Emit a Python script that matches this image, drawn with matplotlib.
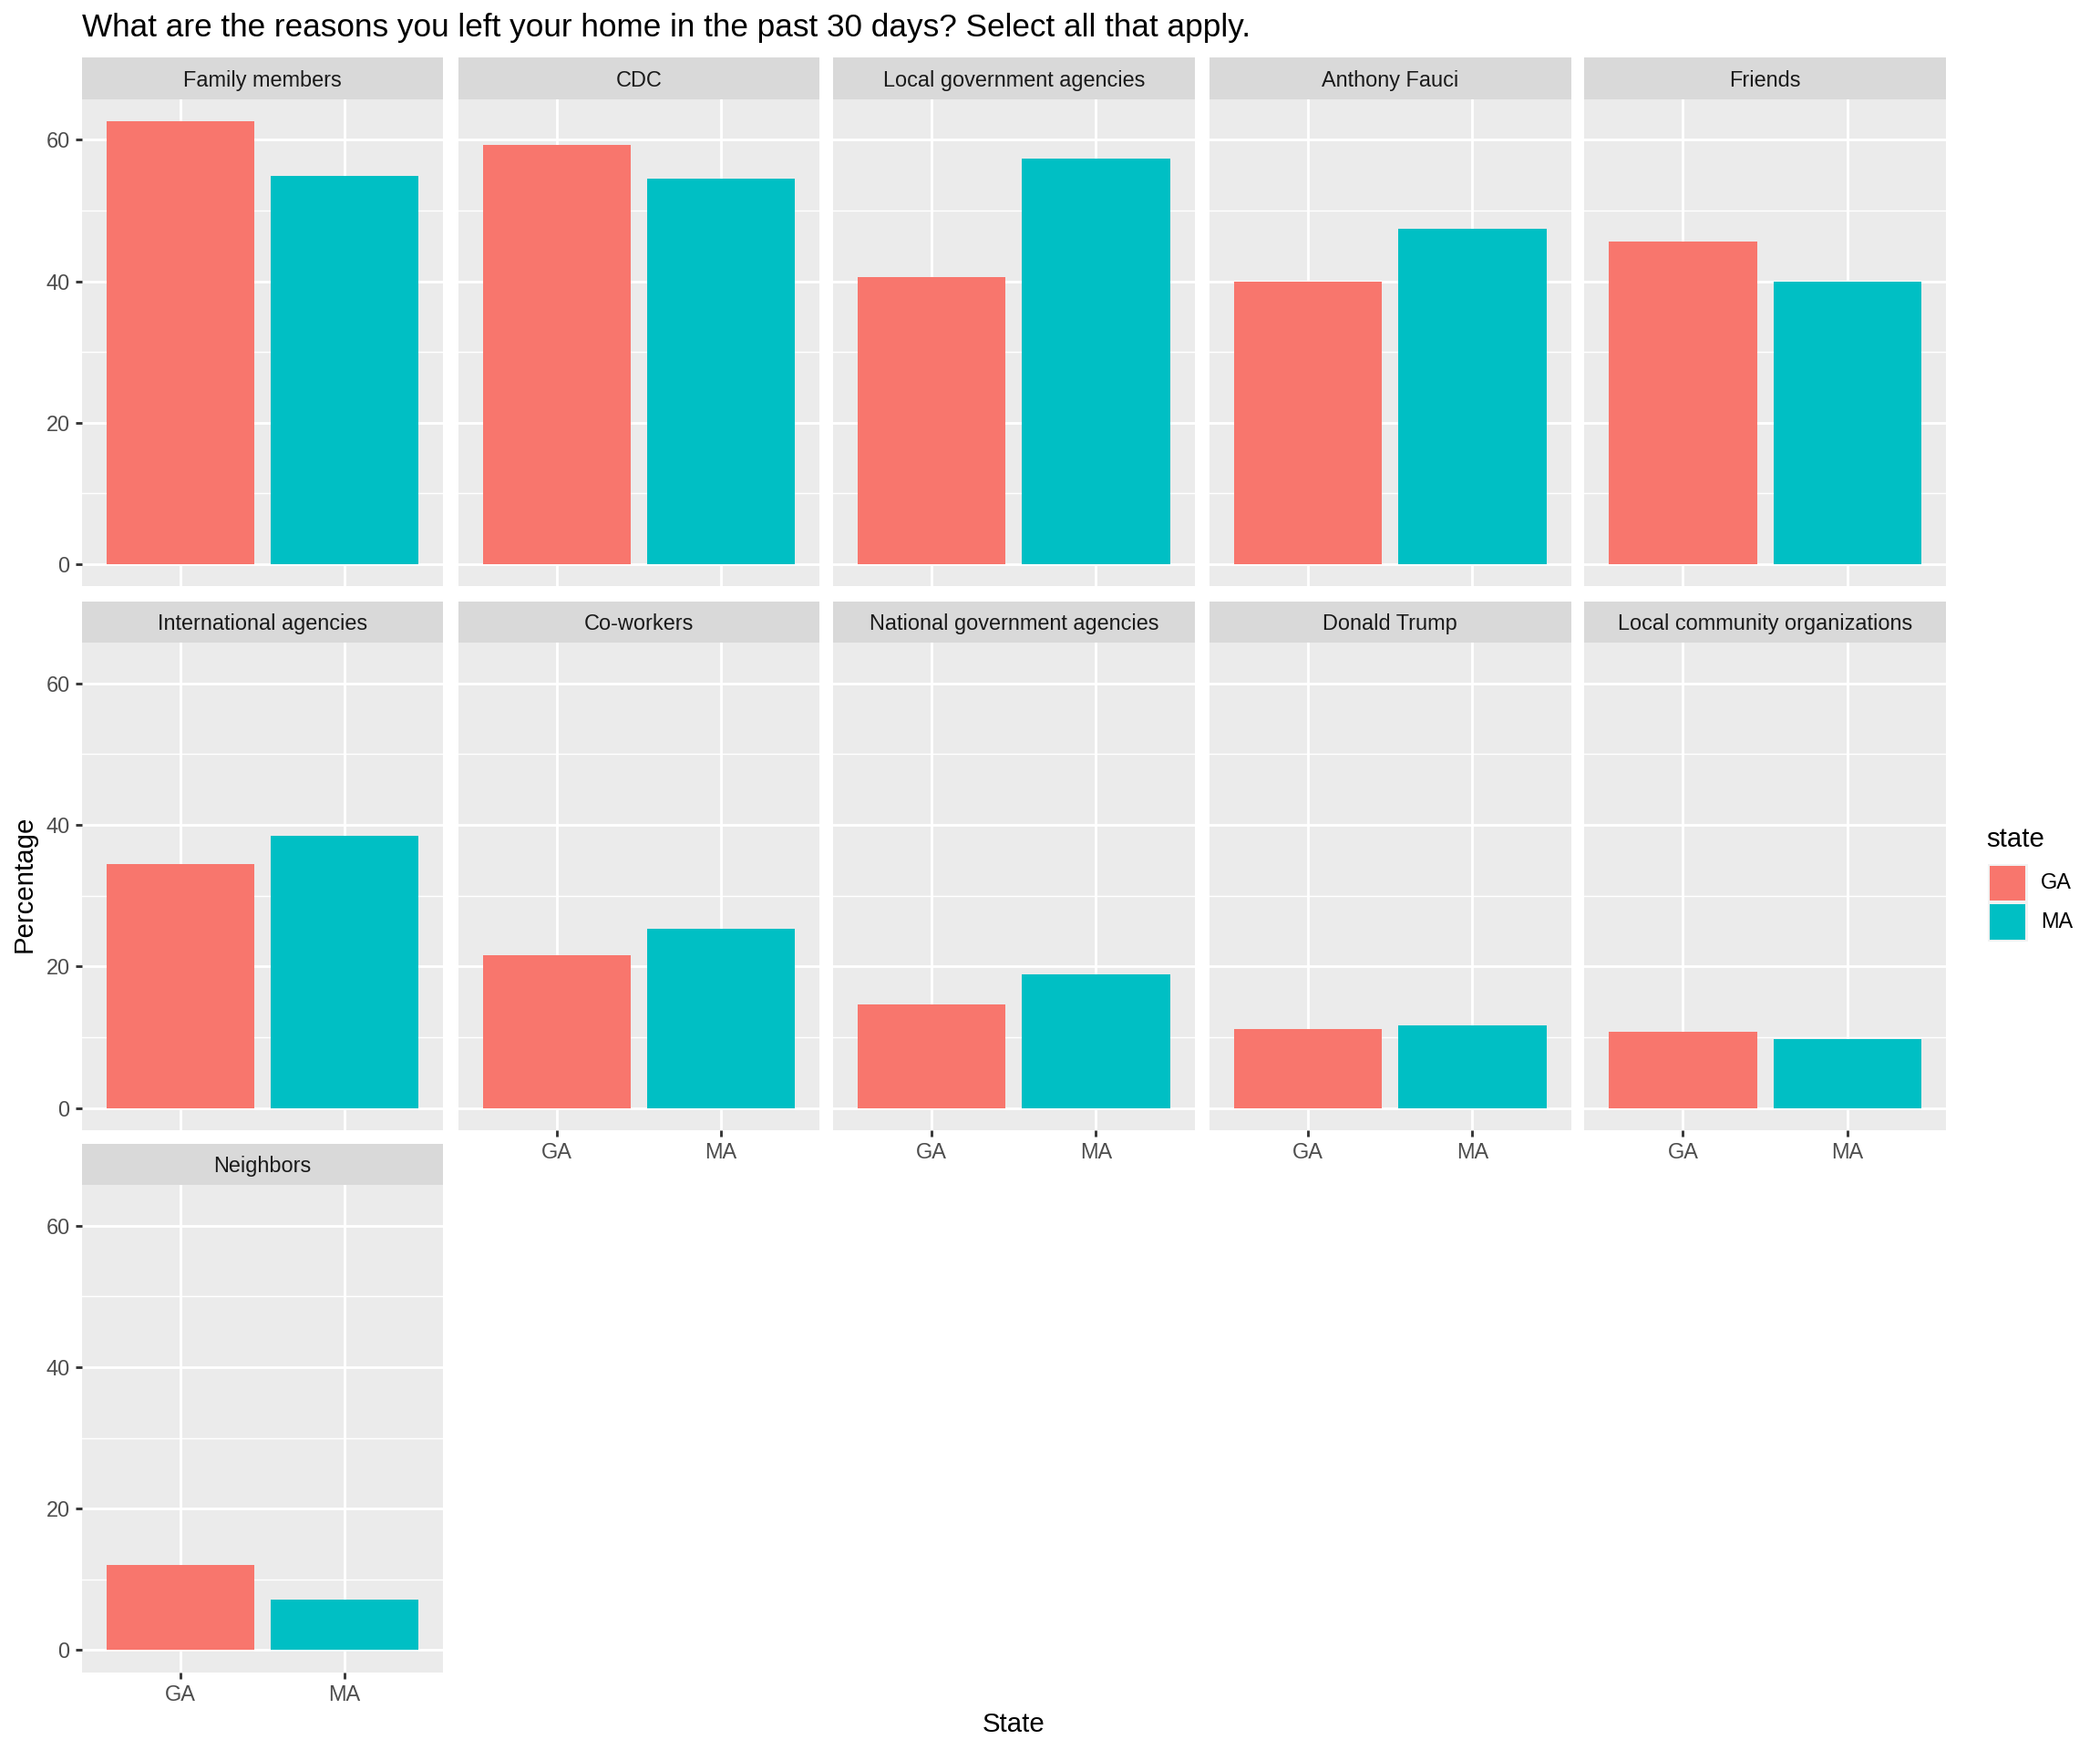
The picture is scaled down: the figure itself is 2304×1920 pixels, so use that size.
import numpy as np
import matplotlib.pyplot as plt
from matplotlib.patches import Rectangle

plt.rcParams['font.family'] = ['Liberation Sans', 'DejaVu Sans']

# survey data (percent)
sources = ["Family members", "CDC", "Local government agencies", "Anthony Fauci",
           "Friends", "International agencies", "Co-workers",
           "National government agencies", "Donald Trump",
           "Local community organizations", "Neighbors"]
states = ["GA", "MA"]
ga = [62.6, 59.2, 40.6, 39.9, 45.6, 34.4, 21.6, 14.6, 11.2, 10.8, 12.1]
ma = [54.9, 54.5, 57.3, 47.4, 39.9, 38.4, 25.3, 18.9, 11.7, 9.7, 7.1]
colors = ["#F8766D", "#00BFC4"]

W, H = 1568.0, 1307.0   # layout measured in these units
fig = plt.figure(figsize=(12, 10), dpi=192)

col_left = [61, 342, 622, 903, 1183]
col_w = 270
row_top = [43, 449, 854]
strip_h = 31
panel_h = 364

ymax = max(ga + ma)
ylo, yhi = -0.05 * ymax, ymax * 1.05
ncol = 5
n = len(sources)

for i, src in enumerate(sources):
    r, c = divmod(i, ncol)
    x0 = col_left[c]
    top = row_top[r]
    ax = fig.add_axes([x0 / W, 1 - (top + strip_h + panel_h) / H, col_w / W, panel_h / H])
    sax = fig.add_axes([x0 / W, 1 - (top + strip_h) / H, col_w / W, strip_h / H])
    sax.set_facecolor("#D9D9D9")
    sax.set_xticks([]); sax.set_yticks([])
    for s in sax.spines.values():
        s.set_visible(False)
    sax.text(0.5, 0.45, src, ha="center", va="center", fontsize=8.8, color="#1A1A1A",
             transform=sax.transAxes)

    ax.set_facecolor("#EBEBEB")
    vals = [ga[i], ma[i]]
    ax.bar([1, 2], vals, width=0.9, color=colors, zorder=3)
    ax.set_xlim(0.4, 2.6)
    ax.set_ylim(ylo, yhi)
    ax.set_yticks([0, 20, 40, 60])
    ax.set_yticks([10, 30, 50], minor=True)
    ax.set_xticks([1, 2])
    ax.grid(True, which="major", color="white", linewidth=1.07, zorder=1)
    ax.grid(True, which="minor", axis="y", color="white", linewidth=0.53, zorder=1)
    for s in ax.spines.values():
        s.set_visible(False)
    ax.tick_params(which="minor", length=0)
    ax.tick_params(which="major", length=2.75, width=1.07, color="#333333",
                   labelcolor="#4D4D4D", labelsize=8.8, pad=2.2)
    bottom_of_col = (i + ncol >= n)
    if bottom_of_col:
        ax.set_xticklabels(states)
    else:
        ax.tick_params(axis="x", length=0, labelbottom=False)
    if c != 0:
        ax.tick_params(axis="y", length=0, labelleft=False)

fig.text(61 / W, 1 - 21 / H, "What are the reasons you left your home in the past 30 days? Select all that apply.",
         ha="left", va="center", fontsize=13.2, color="black")
fig.text(18 / W, 1 - 660 / H, "Percentage", rotation=90, ha="center", va="center", fontsize=11)
fig.text(757 / W, 1 - 1288 / H, "State", ha="center", va="center", fontsize=11)

# legend
fig.text(1483 / W, 1 - 627 / H, "state", ha="left", va="center", fontsize=11)
key_top = 645
key_h = 29
for k, st in enumerate(states):
    y_top = key_top + k * key_h
    fig.add_artist(Rectangle((1484 / W, 1 - (y_top + key_h) / H), 30 / W, key_h / H,
                             facecolor="#F2F2F2", edgecolor="none", transform=fig.transFigure))
    fig.add_artist(Rectangle((1485.5 / W, 1 - (y_top + key_h - 1.5) / H), 27 / W, (key_h - 3) / H,
                             facecolor=colors[k], edgecolor="none", transform=fig.transFigure))
    fig.text(1524 / W, 1 - (y_top + key_h / 2) / H, st, ha="left", va="center", fontsize=8.8)

fig.savefig("out.png", dpi=192)
